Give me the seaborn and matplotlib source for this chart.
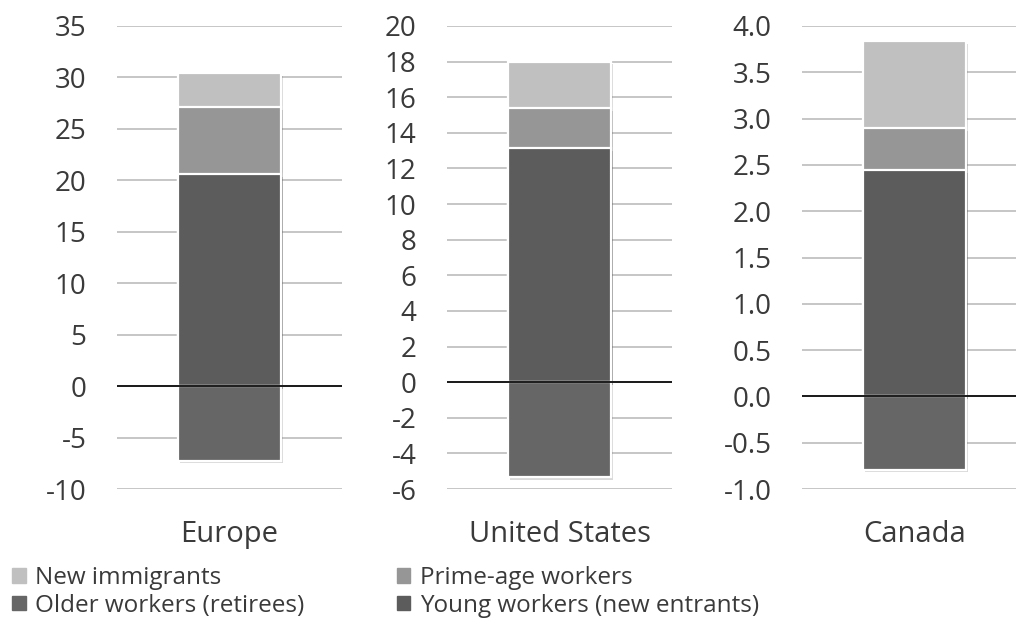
import matplotlib
matplotlib.use("Agg")
import matplotlib.pyplot as plt
import matplotlib.patheffects as pe
from matplotlib.patches import Patch
import seaborn as sns
import numpy as np

# data (stacked components)
regions = ["Europe", "United States", "Canada"]
young = [20.6, 13.15, 2.44]        # young workers (new entrants)
prime = [6.55, 2.25, 0.46]         # prime-age workers
immig = [3.3, 2.6, 0.94]           # new immigrants
older = [-7.25, -5.35, -0.79]      # older workers (retirees)

ylims = [(-10, 35), (-6, 20), (-1, 4)]
yticks = [np.arange(-10, 36, 5), np.arange(-6, 21, 2), np.arange(-1, 4.01, 0.5)]
ytick_fmt = ["{:.0f}", "{:.0f}", "{:.1f}"]

c_immig = "#c0c0c0"
c_prime = "#969696"
c_young = "#5c5c5c"
c_older = "#666666"

sns.set_style("white")
plt.rcParams["font.family"] = ["Open Sans", "DejaVu Sans"]

fig = plt.figure(figsize=(10.16, 6.22), dpi=100)
W, H = 1016, 622
lefts = [117, 447, 802]
ax_w = 225
ax_top, ax_bot = 26, 489
shadow = [pe.SimplePatchShadow(offset=(1.5, -2), shadow_rgbFace="#000000", alpha=0.15), pe.Normal()]

for i, reg in enumerate(regions):
    ax = fig.add_axes([lefts[i] / W, (H - ax_bot) / H, ax_w / W, (ax_bot - ax_top) / H])
    lo, hi = ylims[i]
    for t in yticks[i]:
        ax.axhline(t, color="#c6c6c6", lw=1.4, zorder=0)
    # stacked by overdrawing cumulative totals
    tot = young[i] + prime[i] + immig[i]
    kw = dict(width=0.46, edgecolor="white", linewidth=1.6, ax=ax, zorder=2)
    sns.barplot(x=[reg], y=[tot], color=c_immig, **kw)
    sns.barplot(x=[reg], y=[young[i] + prime[i]], color=c_prime, **kw)
    sns.barplot(x=[reg], y=[young[i]], color=c_young, **kw)
    sns.barplot(x=[reg], y=[older[i]], color=c_older, **kw)
    for p in ax.patches:
        p.set_path_effects(shadow)
    ax.axhline(0, color="#1a1a1a", lw=1.4, zorder=3)
    ax.set_ylim(lo, hi)
    ax.set_xlim(-0.5, 0.5)
    ax.set_yticks(yticks[i])
    ax.set_yticklabels([ytick_fmt[i].format(t) for t in yticks[i]])
    ax.tick_params(axis="y", length=0, pad=22, labelsize=20, labelcolor="#3a3a3a")
    ax.tick_params(axis="x", length=0, pad=22, labelsize=21, labelcolor="#3a3a3a")
    ax.set_xlabel("")
    ax.set_ylabel("")
    sns.despine(ax=ax, left=True, bottom=True)

handles = [Patch(color=c_immig), Patch(color=c_older), Patch(color=c_prime), Patch(color=c_young)]
labels = ["New immigrants", "Older workers (retirees)", "Prime-age workers", "Young workers (new entrants)"]
leg = fig.legend(handles, labels, ncol=2, loc="upper left", bbox_to_anchor=(0.012, 0.09),
                 frameon=False, fontsize=17.5, handlelength=0.55, handleheight=0.55,
                 handletextpad=0.4, columnspacing=3.8, labelspacing=0.15, borderaxespad=0,
                 borderpad=0)
for t in leg.get_texts():
    t.set_color("#3a3a3a")

fig.savefig("out.png", dpi=100)
